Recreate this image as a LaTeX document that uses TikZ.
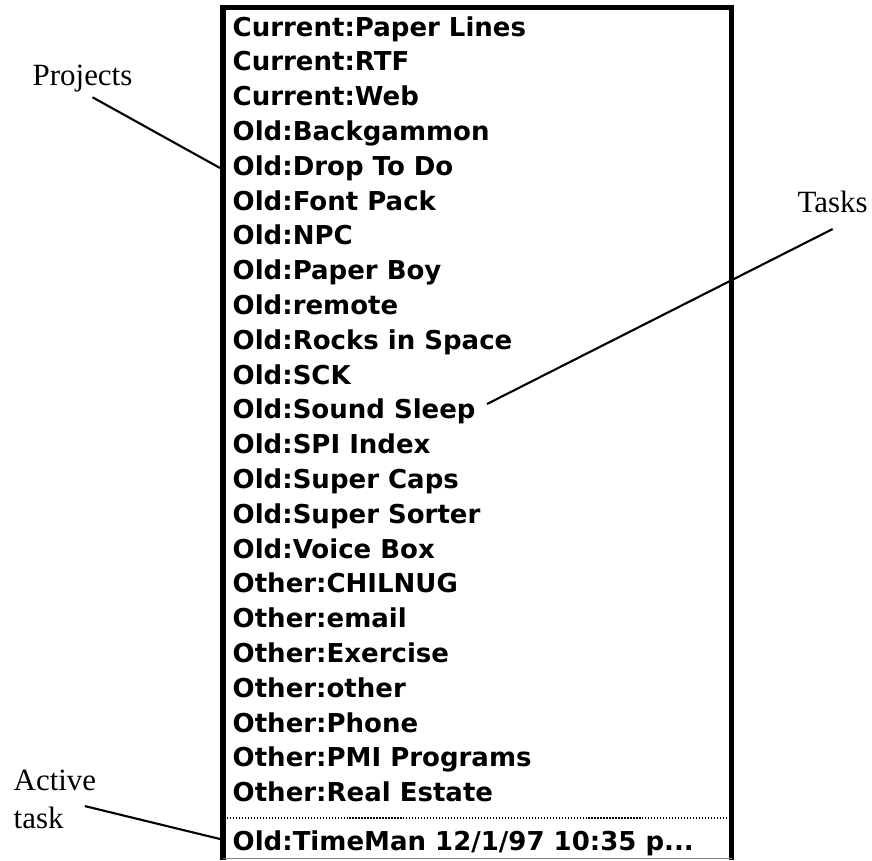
\documentclass[tikz,border=0pt]{standalone}
\usepackage{fontspec}
\setmainfont{Liberation Serif}
\newfontfamily\menufont{DejaVu Sans}
\usetikzlibrary{positioning}

\begin{document}
\begin{tikzpicture}[
item/.style={anchor=base west, inner sep=0pt, font=\menufont\bfseries\fontsize{7.4}{8}\selectfont},
callout/.style={inner sep=0pt, font=\fontsize{8.8}{10.8}\selectfont},
pointer/.style={line width=0.6pt},
frame/.style={line width=1.7pt}
]
\useasboundingbox (0,0) rectangle (8.72,-8.60);

% menu window
\draw[frame] (2.23,-8.60) -- (2.23,-0.075) -- (7.315,-0.075) -- (7.315,-8.60);
\draw[thin, gray] (2.23,-8.585) -- (7.315,-8.585);
\draw[line width=0.4pt, dash pattern=on 0.35pt off 0.5pt] (2.27,-8.18) -- (7.28,-8.18);

\foreach \txt [count=\i] in {Current:Paper Lines, Current:RTF, Current:Web,
  Old:Backgammon, Old:Drop To Do, Old:Font Pack, Old:NPC, Old:Paper Boy,
  Old:remote, Old:Rocks in Space, Old:SCK, Old:Sound Sleep, Old:SPI Index,
  Old:Super Caps, Old:Super Sorter, Old:Voice Box, Other:CHILNUG,
  Other:email, Other:Exercise, Other:other, Other:Phone,
  Other:PMI Programs, Other:Real Estate}
  \node[item] (row\i) at (2.32,{-0.36-0.348*(\i-1)}) {\txt};
\node[item] (active row) at (2.32,-8.50) {Old:TimeMan 12/1/97 10:35 p...};

% labels
\node[callout, anchor=base west] (projects) at (0.32,-0.85) {Projects};
\node[callout, anchor=base west] (tasks) at (7.97,-2.12) {Tasks};
\node[callout, anchor=north west, align=left] (active) at (0.13,-7.69) {Active\\task};

\coordinate (projects tip) at (2.20,-1.68);
\coordinate (tasks tip) at (4.87,-4.04);
\coordinate (active tip) at (2.20,-8.39);

\draw[pointer] ([shift={(0.10,-0.05)}]projects.south) -- (projects tip);
\draw[pointer] ([yshift=-0.16cm]tasks.south) -- (tasks tip);
\draw[pointer] ([shift={(-0.12,-0.07)}]active.east) -- (active tip);

\end{tikzpicture}
\end{document}
